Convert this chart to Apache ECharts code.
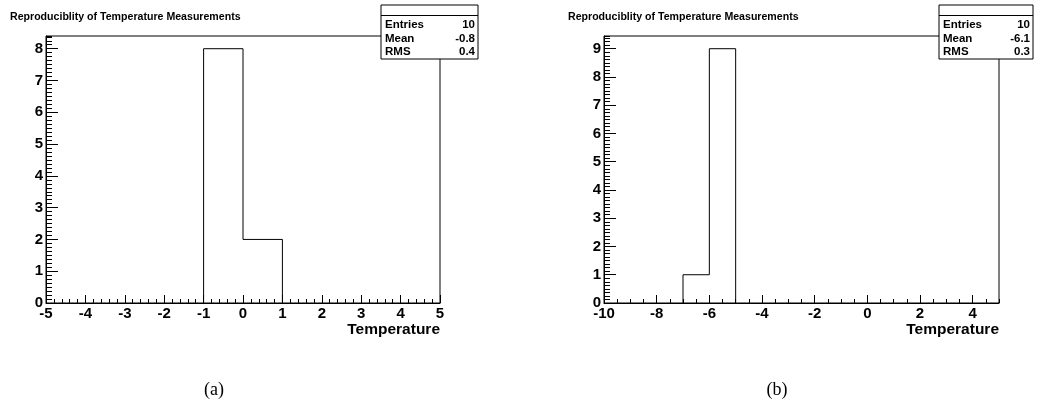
<!DOCTYPE html>
<html>
<head>
<meta charset="utf-8">
<script src="https://cdn.jsdelivr.net/npm/echarts@6/dist/echarts.min.js"></script>
<style>
html,body{margin:0;padding:0;background:#fff;}
#c{width:1038px;height:409px;}
</style>
</head>
<body>
<div id="c"></div>
<script>
// ---- data ----
const titleText = 'Reproduciblity of Temperature Measurements';
const xTitle = 'Temperature';
const edgesA = [-1, 0, 1];
const countsA = [8, 2];
const edgesB = [-7, -6, -5];
const countsB = [1, 9];
const statLabels = ['Entries', 'Mean', 'RMS'];
const statsA = ['10', '-0.8', '0.4'];
const statsB = ['10', '-6.1', '0.3'];
const captions = ['(a)', '(b)'];
const xRangeA = [-5, 5];
const xRangeB = [-10, 5];
const yMaxA = 8.4;
const yMaxB = 9.45;

function stepPoints(edges, counts) {
  const pts = [[edges[0], 0]];
  for (let i = 0; i < counts.length; i++) {
    pts.push([edges[i], counts[i]]);
    pts.push([edges[i + 1], counts[i]]);
  }
  pts.push([edges[edges.length - 1], 0]);
  return pts;
}

const FONT = 'Liberation Sans, Arial, Helvetica, sans-serif';
const lab = {color: '#000', fontWeight: 'bold', fontSize: 15, fontFamily: FONT};

function majorX(grid, range, interval, showMax) {
  return {
    gridIndex: grid, type: 'value', min: range[0], max: range[1], interval: interval,
    position: 'bottom',
    axisLine: {show: true, onZero: false, lineStyle: {color: '#000', width: 1}},
    axisTick: {show: true, inside: true, length: 8, lineStyle: {color: '#000', width: 1}},
    axisLabel: Object.assign({margin: 3, showMaxLabel: showMax, showMinLabel: true}, lab),
    splitLine: {show: false}
  };
}
function minorX(grid, range, interval) {
  return {
    gridIndex: grid, type: 'value', min: range[0], max: range[1], interval: interval,
    position: 'bottom',
    axisLine: {show: false, onZero: false},
    axisTick: {show: true, inside: true, length: 4, lineStyle: {color: '#000', width: 1}},
    axisLabel: {show: false},
    splitLine: {show: false}
  };
}
function majorY(grid, max) {
  return {
    gridIndex: grid, type: 'value', min: 0, max: max, interval: 1, position: 'left',
    axisLine: {show: true, onZero: false, lineStyle: {color: '#000', width: 1}},
    axisTick: {show: true, inside: true, length: 12, lineStyle: {color: '#000', width: 1}},
    axisLabel: Object.assign({margin: 3, showMaxLabel: false}, lab),
    splitLine: {show: false}
  };
}
function minorY(grid, max) {
  return {
    gridIndex: grid, type: 'value', min: 0, max: max, interval: 0.125, position: 'left',
    axisLine: {show: false, onZero: false},
    axisTick: {show: true, inside: true, length: 6, lineStyle: {color: '#000', width: 1}},
    axisLabel: {show: false},
    splitLine: {show: false}
  };
}

function statsBox(x, y, w, values) {
  const rowY = [25, 38.5, 52];
  const children = [
    {type: 'rect', shape: {x: 0, y: 0, width: w, height: 54}, style: {fill: '#fff', stroke: '#000', lineWidth: 1}},
    {type: 'line', shape: {x1: 0, y1: 10.5, x2: w, y2: 10.5}, style: {stroke: '#000', lineWidth: 1}}
  ];
  statLabels.forEach((s, i) => {
    children.push({type: 'text', x: 4, y: rowY[i] - y, style: {text: s, fill: '#000', font: 'bold 11.5px ' + FONT, textVerticalAlign: 'middle', textAlign: 'left'}});
    children.push({type: 'text', x: w - 3, y: rowY[i] - y, style: {text: values[i], fill: '#000', font: 'bold 11.5px ' + FONT, textVerticalAlign: 'middle', textAlign: 'right'}});
  });
  return {type: 'group', x: x, y: y, z: 100, children: children};
}

const chart = echarts.init(document.getElementById('c'), null, {renderer: 'canvas'});
chart.setOption({
  animation: false,
  backgroundColor: '#fff',
  grid: [
    {left: 46, top: 36, width: 394, height: 267, show: true, borderColor: '#000', borderWidth: 1, backgroundColor: 'transparent'},
    {left: 604, top: 36, width: 395, height: 267, show: true, borderColor: '#000', borderWidth: 1, backgroundColor: 'transparent'}
  ],
  xAxis: [
    majorX(0, xRangeA, 1, true),
    minorX(0, xRangeA, 0.2),
    majorX(1, xRangeB, 2, false),
    minorX(1, xRangeB, 0.5)
  ],
  yAxis: [
    majorY(0, yMaxA),
    minorY(0, yMaxA),
    majorY(1, yMaxB),
    minorY(1, yMaxB)
  ],
  series: [
    {type: 'line', xAxisIndex: 0, yAxisIndex: 0, data: stepPoints(edgesA, countsA), symbol: 'none',
     lineStyle: {color: '#000', width: 1}, clip: false, z: 3},
    {type: 'line', xAxisIndex: 2, yAxisIndex: 2, data: stepPoints(edgesB, countsB), symbol: 'none',
     lineStyle: {color: '#000', width: 1}, clip: false, z: 3}
  ],
  graphic: [
    {type: 'text', left: 10, top: 12, style: {text: titleText, fill: '#000', font: 'bold 10.6px ' + FONT}},
    {type: 'text', left: 568, top: 12, style: {text: titleText, fill: '#000', font: 'bold 10.6px ' + FONT}},
    {type: 'text', x: 440, y: 330, style: {text: xTitle, fill: '#000', font: 'bold 15.5px ' + FONT, textAlign: 'right', textVerticalAlign: 'middle'}},
    {type: 'text', x: 999, y: 330, style: {text: xTitle, fill: '#000', font: 'bold 15.5px ' + FONT, textAlign: 'right', textVerticalAlign: 'middle'}},
    statsBox(381, 5, 97, statsA),
    statsBox(939, 5, 94, statsB),
    {type: 'text', x: 214, y: 390, style: {text: captions[0], fill: '#000', font: '18px Liberation Serif, DejaVu Serif, serif', textAlign: 'center', textVerticalAlign: 'middle'}},
    {type: 'text', x: 777, y: 390, style: {text: captions[1], fill: '#000', font: '18px Liberation Serif, DejaVu Serif, serif', textAlign: 'center', textVerticalAlign: 'middle'}}
  ]
});
</script>
</body>
</html>
